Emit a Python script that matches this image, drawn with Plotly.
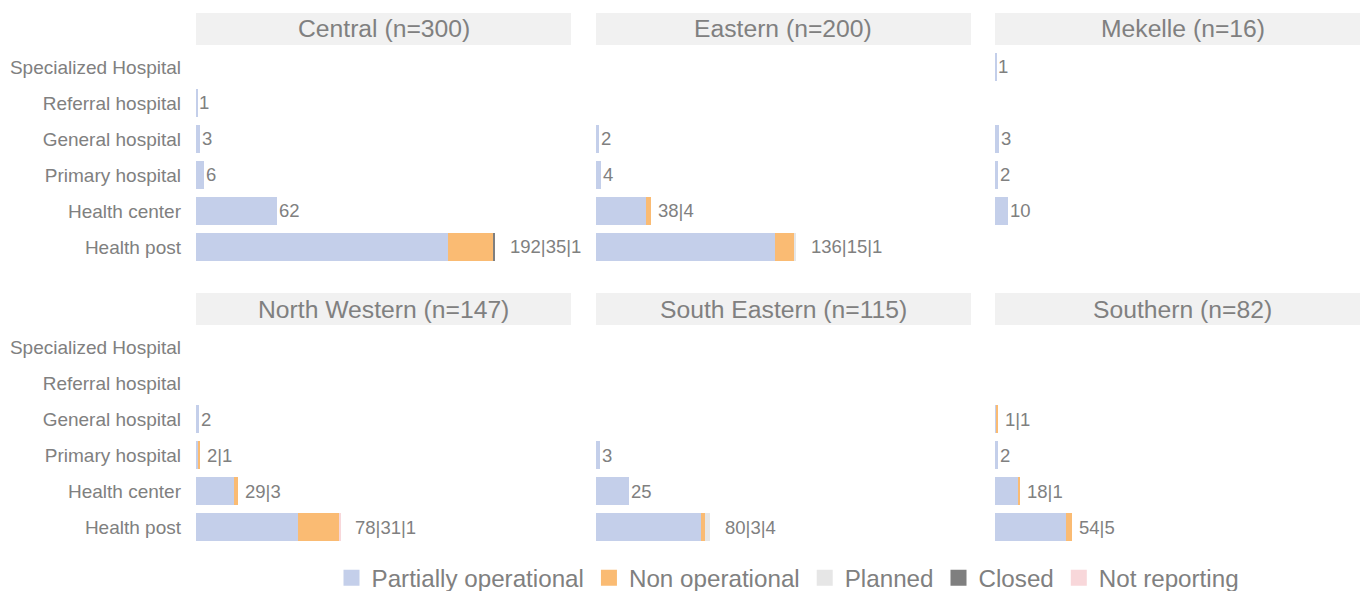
import plotly.graph_objects as go
from plotly.subplots import make_subplots

# facility types, top to bottom
categories = ["Specialized Hospital", "Referral hospital", "General hospital",
              "Primary hospital", "Health center", "Health post"]
regions = ["Central", "Eastern", "Mekelle", "North Western", "South Eastern", "Southern"]
region_n = [300, 200, 16, 147, 115, 82]

status_names = ["Partially operational", "Non operational", "Planned", "Closed", "Not reporting"]
status_colors = ["#c4cfea", "#fabb73", "#e6e6e6", "#7f7f7f", "#f8d7da"]

# counts per region, in category order
partially = {
    "Central":       [0, 1, 3, 6, 62, 192],
    "Eastern":       [0, 0, 2, 4, 38, 136],
    "Mekelle":       [1, 0, 3, 2, 10, 0],
    "North Western": [0, 0, 2, 2, 29, 78],
    "South Eastern": [0, 0, 0, 3, 25, 80],
    "Southern":      [0, 0, 1, 2, 18, 54],
}
non_operational = {
    "Central":       [0, 0, 0, 0, 0, 35],
    "Eastern":       [0, 0, 0, 0, 4, 15],
    "Mekelle":       [0, 0, 0, 0, 0, 0],
    "North Western": [0, 0, 0, 1, 3, 31],
    "South Eastern": [0, 0, 0, 0, 0, 3],
    "Southern":      [0, 0, 1, 0, 1, 5],
}
planned = {
    "Central":       [0, 0, 0, 0, 0, 0],
    "Eastern":       [0, 0, 0, 0, 0, 1],
    "Mekelle":       [0, 0, 0, 0, 0, 0],
    "North Western": [0, 0, 0, 0, 0, 0],
    "South Eastern": [0, 0, 0, 0, 0, 4],
    "Southern":      [0, 0, 0, 0, 0, 0],
}
closed = {
    "Central":       [0, 0, 0, 0, 0, 1],
    "Eastern":       [0, 0, 0, 0, 0, 0],
    "Mekelle":       [0, 0, 0, 0, 0, 0],
    "North Western": [0, 0, 0, 0, 0, 0],
    "South Eastern": [0, 0, 0, 0, 0, 0],
    "Southern":      [0, 0, 0, 0, 0, 0],
}
not_reporting = {
    "Central":       [0, 0, 0, 0, 0, 0],
    "Eastern":       [0, 0, 0, 0, 0, 0],
    "Mekelle":       [0, 0, 0, 0, 0, 0],
    "North Western": [0, 0, 0, 0, 0, 1],
    "South Eastern": [0, 0, 0, 0, 0, 0],
    "Southern":      [0, 0, 0, 0, 0, 0],
}
series = [partially, non_operational, planned, closed, not_reporting]

FONT = "Liberation Sans, Arial, sans-serif"
GREY = "#808080"
W = 1360
H = 620  # a bit taller than the 591px window so the legend has room; the rest is cut off

fig = make_subplots(rows=2, cols=3, shared_yaxes=True)

# panel geometry in pixels (body margin removed below, so page px = paper px)
col_px = [(196, 571), (596, 971), (995, 1360)]
row_px = [(49, 265), (329, 545)]
strip_px = [(13, 45), (293, 325)]
px_per_unit = 252 / 192


def px_x(v):
    return v / W


def px_y(v):
    return 1 - v / H


# labels with more parts sit a bit further from the bar
shift_by_parts = {1: 0, 2: 5, 3: 13}

for i, reg in enumerate(regions):
    r, c = i // 3 + 1, i % 3 + 1
    for s, name in enumerate(status_names):
        fig.add_trace(go.Bar(
            y=categories, x=series[s][reg], orientation="h", name=name,
            marker=dict(color=status_colors[s], line=dict(width=0)),
            showlegend=False, hoverinfo="skip"), row=r, col=c)

    # value labels after each bar
    xref = "x" if i == 0 else f"x{i + 1}"
    yref = "y" if i == 0 else f"y{i + 1}"
    for k, cat in enumerate(categories):
        parts = [series[s][reg][k] for s in range(len(series)) if series[s][reg][k] > 0]
        if not parts:
            continue
        fig.add_annotation(x=sum(parts), y=cat, xref=xref, yref=yref,
                           text="|".join(str(p) for p in parts), showarrow=False,
                           xanchor="left", xshift=shift_by_parts[len(parts)],
                           font=dict(family=FONT, size=18.5, color=GREY))

    # facet strip (full width 375px, the right one is cut by the page edge)
    x0 = col_px[c - 1][0]
    x1 = x0 + 375
    sy0, sy1 = strip_px[r - 1]
    fig.add_shape(type="rect", xref="paper", yref="paper",
                  x0=px_x(x0), x1=px_x(x1), y0=px_y(sy1), y1=px_y(sy0),
                  fillcolor="#f1f1f1", line=dict(width=0), layer="below")
    fig.add_annotation(xref="paper", yref="paper", x=px_x((x0 + x1) / 2),
                       y=px_y((sy0 + sy1) / 2), text=f"{reg} (n={region_n[i]})",
                       showarrow=False, xanchor="center", yanchor="middle",
                       font=dict(family=FONT, size=24.7, color=GREY))

# legend entries
for name, color in zip(status_names, status_colors):
    fig.add_trace(go.Scatter(x=[None], y=[None], mode="markers", name=name,
                             marker=dict(symbol="square", size=16, color=color)),
                  row=1, col=1)

for r in (1, 2):
    for c in (1, 2, 3):
        x0, x1 = col_px[c - 1]
        y0, y1 = row_px[r - 1]
        fig.update_xaxes(domain=[px_x(x0), px_x(x1)],
                         range=[0, (x1 - x0) / px_per_unit],
                         showgrid=False, zeroline=False, showticklabels=False,
                         showline=False, row=r, col=c)
        fig.update_yaxes(domain=[px_y(y1), px_y(y0)], categoryorder="array",
                         categoryarray=categories[::-1], showgrid=False,
                         zeroline=False, showline=False, ticks="",
                         showticklabels=(c == 1), ticklabelstandoff=14,
                         tickfont=dict(family=FONT, size=19, color=GREY),
                         row=r, col=c)

fig.update_layout(
    width=W, height=H, barmode="stack", bargap=0.2,
    plot_bgcolor="white", paper_bgcolor="white",
    margin=dict(l=0, r=0, t=0, b=0),
    font=dict(family=FONT, color=GREY),
    legend=dict(orientation="h", x=px_x(788), xanchor="center", y=px_y(578),
                yanchor="middle", traceorder="normal",
                font=dict(family=FONT, size=24.2, color=GREY),
                itemsizing="trace", tracegroupgap=0, itemwidth=30),
)

fig.write_html(
    "out.html",
    config={"displayModeBar": False},
    post_script=("document.documentElement.style.overflow='hidden';"
                 "document.body.style.margin='0';"
                 "document.body.style.overflow='hidden';"),
)
